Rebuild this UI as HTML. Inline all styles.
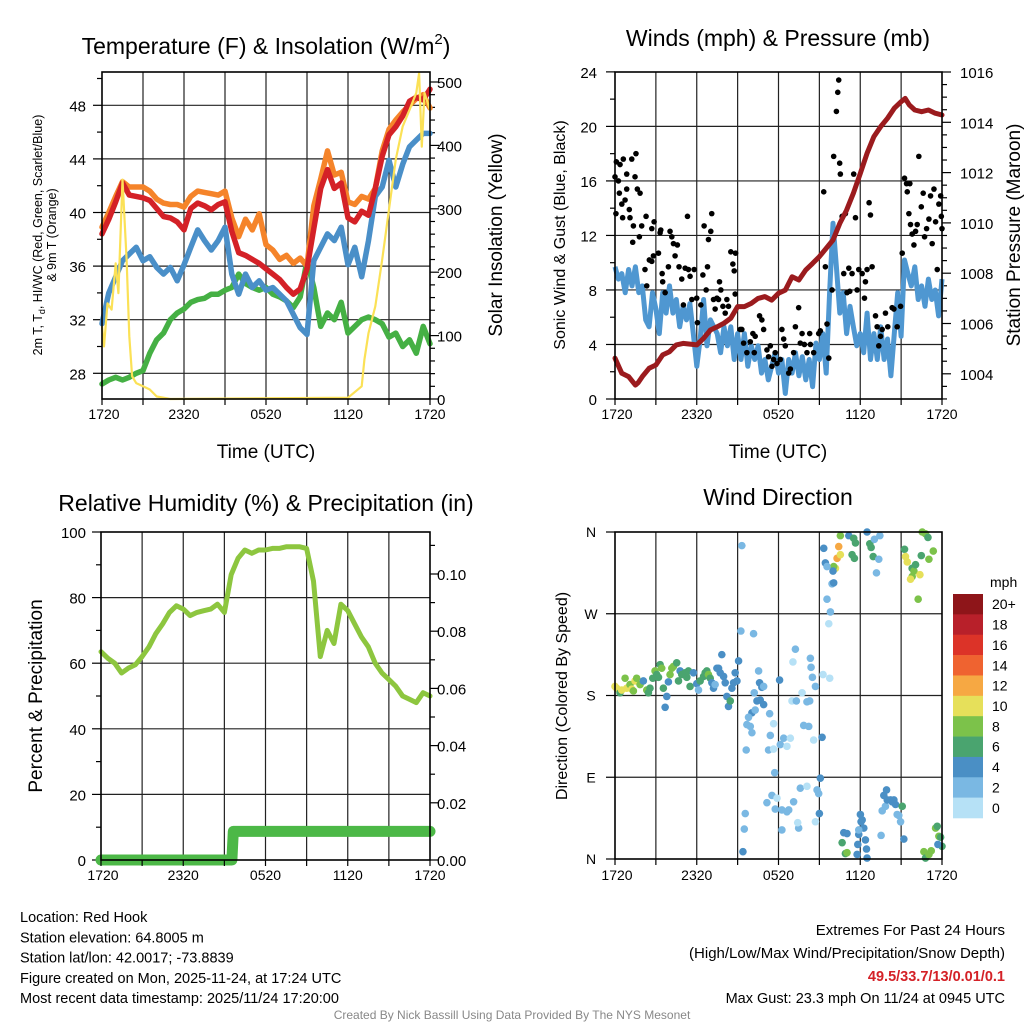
<!DOCTYPE html>
<html><head><meta charset="utf-8"><style>
html,body{margin:0;padding:0;background:#fff;}
svg text{font-family:"Liberation Sans",Arial,sans-serif;}
</style></head><body>
<svg id="chart" width="1024" height="1024" viewBox="0 0 1024 1024" xmlns="http://www.w3.org/2000/svg">
<rect width="1024" height="1024" fill="#fff"/>
</svg>
<script>
// ---------- DATA ----------
const tempHours = [0,0.5,1,1.5,2,2.5,3,3.5,4,4.5,5,5.5,6,6.5,7,7.5,8,8.5,9,9.5,10,10.5,11,11.5,12,12.5,13,13.5,14,14.5,15,15.5,16,16.5,17,17.5,18,18.5,19,19.5,20,20.5,21,21.5,22,22.5,23,23.5,24];
const tempRed = [38.4,39.5,40.8,42.2,41.3,41.2,41.1,40.9,40.3,39.7,39.6,39.3,38.7,40.3,40.7,40.5,40.2,40.6,40.8,38.6,37.0,36.8,36.5,36.2,35.8,35.4,35.0,34.4,33.9,34.3,35.8,38.8,41.8,43.2,41.8,42.2,39.6,39.3,40.1,39.8,41.8,44.2,45.8,46.4,47.2,48.3,48.6,48.4,49.2];
const tempOrange = [38.9,40,41.2,42.3,41.9,41.9,41.9,41.6,41.0,40.7,40.6,40.6,40.4,41.2,41.6,41.5,41.4,41.3,41.6,39.6,38.2,39.5,38.7,39.9,37.6,37.2,36.5,36.8,36.2,36.6,36.0,40.5,42.5,44.6,42.8,43.0,40.8,40.6,41.2,41.0,41.8,44.6,46.2,46.9,47.5,48.0,48.5,48.8,47.8];
const windChill = [31.7,34,35.2,36.4,36.9,37.4,36.4,36.7,35.9,35.4,35.9,34.9,36.1,37.4,38.7,37.9,37.2,37.9,38.9,35.4,33.9,35.4,34.4,34.9,34.2,34.4,33.9,33.4,32.4,31.4,30.9,36.4,37.4,38.4,37.9,38.9,36.1,37.4,35.2,37.9,41.2,41.9,43.9,41.9,43.6,44.9,45.4,45.9,45.9];
const dewPoint = [27.2,27.5,27.7,27.5,27.7,28,28.2,29.5,30.5,31,32,32.5,32.8,33.3,33.5,33.6,33.9,33.9,34.2,34.4,35.4,34.7,34.4,34.2,34.4,33.9,33.7,33.4,32.9,33.7,36.4,34.4,31.5,32.5,32,33.3,31,31.5,32,32.2,32,31.7,30.7,31,30,30.5,29.5,31.5,30.2];
const solarHours = [0,0.15,0.4,0.7,1,1.2,1.5,1.8,2,2.2,2.5,3,3.5,4,5,18,19,19.2,19.5,20,20.5,21,21.5,22,22.5,23,23.2,23.4,23.6,24];
const solarValues = [115,83,151,141,214,167,346,220,99,36,25,20,15,4,0,2,20,62,104,146,220,299,378,430,456,483,514,398,483,456];

const windHours = Array.from({length:97},(_, i)=>i*0.25);
const windSpeed = [9.7,8.8,9.2,7.8,9.5,8.3,9.7,7.8,8.3,5.8,5.3,7.8,6.6,4.8,7.8,6.3,8.3,6.3,7.3,5.3,6.8,5.8,7,4.8,2.4,4.4,7.3,3.9,5.8,5.3,4.8,3.4,5.3,3.9,5.3,2.9,4.8,2.9,4.8,2.4,3.9,2.9,3.9,1.9,2.9,1.4,2.4,3.4,1.9,2.9,0.4,2.9,1.9,3.4,1.7,3.1,1.4,2.9,0.9,4.1,2.9,4.8,1.9,7.8,12.9,9.7,6.3,7.8,4.8,6.8,5.3,3.9,4.8,3.4,6.3,2.9,4.8,2.9,5.3,2.9,4.4,1.7,4.8,7.8,4.6,10.2,9.2,8.3,9.7,7.3,8.3,6.8,8.8,7.3,8,6.1,8.8];
const pressHours = [0,0.5,1,1.5,1.7,2,2.5,3,3.5,4,4.5,5,6,6.5,7,7.5,8,8.5,9,9.5,10,10.5,11,11.5,12,12.5,13,13.5,14,14.5,15,15.5,16,16.5,17,17.5,18,18.5,19,19.5,20,20.5,21,21.3,21.6,22,22.5,23,23.5,24];
const pressValues = [1004.62,1004.02,1003.89,1003.55,1003.65,1003.89,1004.22,1004.35,1004.75,1004.88,1005.15,1005.21,1005.15,1005.41,1005.74,1005.87,1006.01,1006.21,1006.67,1006.67,1006.8,1007.0,1007.07,1006.93,1007.2,1007.33,1007.86,1007.73,1008.13,1008.39,1008.66,1008.99,1009.32,1009.98,1010.51,1011.18,1011.97,1012.77,1013.43,1013.83,1014.16,1014.56,1014.82,1014.95,1014.69,1014.49,1014.42,1014.49,1014.36,1014.29];
const gustHours = [0,0.07,0.1,0.25,0.37,0.32,0.5,0.61,0.56,0.74,0.86,0.86,1.05,1.1,1.23,1.3,1.35,1.47,1.54,1.64,1.84,1.79,1.96,2.2,2.28,2.33,2.52,2.7,2.82,2.7,2.87,3.19,3.31,3.36,3.46,3.5,3.68,3.92,4.04,4.17,4.29,4.41,4.58,4.7,4.9,5.02,5.15,5.32,5.39,5.51,5.64,5.81,6,6.05,6.3,6.45,6.54,6.69,6.79,6.86,7.03,7.1,7.23,7.35,7.48,7.6,7.67,7.77,7.92,8.09,8.21,8.33,8.5,8.65,8.75,8.85,8.82,9.19,9.31,9.44,9.68,9.93,10.12,10.22,10.29,10.61,10.78,10.91,11.15,11.27,11.4,11.52,11.64,11.76,11.89,12.13,12.25,12.38,12.5,12.75,12.87,13.11,13.24,13.48,13.6,13.73,13.9,14.09,14.29,14.34,14.58,14.95,15.07,15.32,15.44,15.56,15.69,15.93,16.05,16.25,16.35,16.42,16.49,16.54,16.67,16.79,16.91,17.03,17.16,17.23,17.4,17.52,17.65,17.77,17.89,18.14,18.31,18.38,18.5,18.65,18.75,18.87,19.12,19.24,19.36,19.49,19.61,19.85,20.02,20.34,20.47,20.71,20.96,21.08,21.25,21.4,21.45,21.64,21.57,21.69,21.81,21.94,22.06,22.18,22.3,22.48,22.62,22.72,22.87,23.04,23.16,23.28,23.41,23.53,23.65,23.77,23.9,23.95,24];
const gustValues = [16.3,13.6,17.4,16,17.2,15.1,14.3,17.6,13.3,14.6,16.5,15.4,13.9,13.3,17.6,11.5,12.7,16.3,18,15.4,15.1,11.9,12.7,9.5,13.4,8.3,10.2,10.1,10.5,12.5,13,10.7,12.2,12.4,9.2,8.6,7.8,9.7,12.3,11.9,11.4,10.5,11.3,9.7,8.8,6.9,9.6,13.4,9.5,9,7.3,9.5,7.4,5.6,6.9,9.1,12.7,8,9.7,11.7,12.3,13.6,7.3,6.6,7.4,7.3,8.6,8,6.8,6.3,7.3,6.8,10.8,9.9,9.4,10.7,7.7,5.1,5.1,4.1,3.4,4.2,4.8,3.4,4.6,6.1,5.8,5.1,3.6,3.1,3.9,2.4,2.9,3.4,2.6,2.9,5.1,4.4,3.9,1.9,2.2,3.4,5.3,6.7,4.1,4.8,4,3.4,4.8,4,3.4,4.8,5,15.2,9.7,5.5,3,8,17.8,21.1,22.5,23.4,17.3,16.5,13.4,9.2,13.6,7.8,9.6,7.9,9.2,16.5,13.3,8,9.5,9.2,7.4,8.6,9.5,14.4,13.5,9.7,6.1,5.3,3.9,4.6,5.1,6.3,5.3,6.7,6.6,5.3,6.8,10.7,16.2,15.8,15.2,15.8,13.6,12.8,12.1,11.3,12.3,12.8,17.8,14.1,15.1,11.9,12.5,13.2,14.9,11.4,15.4,13,9.5,14.3,14.9,13.4,12.5];

const rhHours = tempHours;
const rhValues = [63.5,61.5,60,57,58.5,59.5,62,65,69,72,75.5,77.5,76.5,74.5,75.5,76,76.5,78,75.5,87,92,94.5,93.5,94.5,94.5,95,95,95.5,95.5,95.5,95,85,62,70,66,78,76,72,68,65,60,57,55,53,50,49,48,51,50];
const precipHours = [0,9.55,9.65,24];
const precipValues = [0,0,0.01,0.01];

// wind direction observations: [hour, degrees, speed mph]
const windDirObs = [
[0,190,10],[0.12,188,10],[0.37,183,6],[0.49,186,10],[0.74,199,8],[0.86,188,10],[1.1,192,8],[1.23,187,10],[1.35,185,8],[1.47,196,10],[1.59,199,8],[1.84,192,8],[2.08,196,4],[2.33,186,8],[2.45,183,6],[2.57,188,6],[2.77,199,6],[2.94,207,8],[3.06,203,6],[3.19,200,6],[3.31,214,6],[3.43,210,8],[3.55,188,6],[3.68,167,4],[3.8,179,4],[3.92,195,4],[4.04,203,8],[4.17,210,8],[4.29,212,8],[4.53,216,6],[4.66,196,6],[4.78,207,4],[4.9,203,6],[5.15,205,6],[5.27,200,6],[5.39,207,6],[5.51,190,6],[5.76,205,4],[6,193,4],[6.13,186,2],[6.25,196,6],[6.5,201,6],[6.62,205,6],[6.74,207,6],[6.86,203,8],[6.99,199,6],[7.11,194,4],[7.23,188,4],[7.35,192,2],[7.48,210,4],[7.6,210,4],[7.72,205,4],[7.84,225,4],[7.97,201,4],[8.09,194,4],[8.21,179,4],[8.33,168,4],[8.46,174,6],[8.58,188,4],[8.7,194,4],[8.82,205,4],[8.95,196,4],[9.07,218,4],
[9.31,345,2],[9.24,251,2],[10.17,248,2],[10.54,207,2],[10.61,194,4],[10.78,189,4],[10.91,190,2],[10.22,183,2],[10.42,174,4],[10.66,175,4],[10.91,170,4],[10.05,161,4],[9.8,156,2],[9.68,148,2],[9.93,146,2],[10.05,139,2],[10.29,164,2],[11.35,160,2],[11.64,149,0],[11.4,136,2],[11.27,120,2],[11.64,121,0],[12.13,126,2],[12.38,133,2],[12.62,124,0],[12.87,133,0],[12.08,197,4],[13.24,231,2],[13.06,217,0],[14.34,221,2],[14.39,211,2],[14.49,200,2],[14.71,190,2],[13.73,183,0],[12.99,174,0],[13.31,174,2],[14.09,173,2],[14.29,174,2],[13.85,147,2],[14.22,146,2],[14.58,131,0],[15.2,134,4],[15.27,203,0],[15.76,199,0],[9.63,120,2],[11.72,95,2],[15.07,89,4],[13.6,78,2],[14.09,80,0],[14.83,76,2],[14.95,72,2],[11.52,70,2],[11.89,67,0],[11.15,62,2],[11.76,55,2],[12.25,54,2],[12.62,52,2],[12.75,54,2],[13.11,63,2],[9.56,50,2],[9.49,33,2],[12.25,32,2],[13.48,34,2],[13.41,40,0],[14.71,41,0],[15,50,4],[9.39,8,4],
[15.32,342,4],[16.42,344,12],[16.3,331,12],[16.54,335,10],[16.18,320,10],[16.05,322,8],[15.44,326,4],[15.56,322,2],[16,317,4],[15.93,303,2],[16.05,304,4],[15.56,286,2],[15.81,272,2],[15.69,259,0],[16.54,356,8],[17.16,356,4],[17.52,353,6],[17.65,348,6],[17.4,335,6],[17.57,331,6],[18.5,360,4],[18.7,347,6],[18.8,343,6],[18.95,333,6],[19.04,352,2],[19.36,330,2],[19.44,356,2],[19.19,315,2],[21.25,341,6],[21.32,333,10],[21.45,327,10],[21.81,320,6],[21.94,317,8],[21.81,311,8],[21.69,308,10],[22.06,324,6],[22.38,313,10],[22.48,334,6],[22.55,360,8],[22.79,358,8],[22.97,354,6],[23.04,330,8],[23.36,339,8],[22.25,286,8],
[16.79,29,4],[17.03,28,4],[16.67,18,6],[16.91,6,6],[17.03,7,8],[17.77,5,4],[17.82,16,4],[17.89,27,4],[18.01,49,4],[18.14,43,4],[18.26,34,4],[18.06,41,4],[18.38,21,4],[18.46,11,4],[18.5,1,4],[17.89,32,2],[19.53,26,2],[19.61,53,2],[19.85,58,2],[19.73,70,4],[19.93,76,4],[19.98,65,4],[20.22,65,4],[20.34,63,4],[20.47,65,4],[20.59,60,4],[20.71,49,2],[20.83,48,2],[20.96,41,2],[21.08,58,6],[21.2,22,4],[22.67,8,8],[22.79,1,6],[23.04,5,8],[23.21,9,8],[23.53,34,8],[23.65,36,6],[23.77,25,8],[23.9,24,6],[24,14,6],[23.7,16,4]
];
const dirHours = windDirObs.map(d=>d[0]);
const dirDegrees = windDirObs.map(d=>d[1]);
const dirSpeeds = windDirObs.map(d=>d[2]);

const timeTickLabels = ["1720","2320","0520","1120","1720"];
const speedBinLabels = ["20+","18","16","14","12","10","8","6","4","2","0"];
const speedBinColors = ["#8e1519","#b8202a","#dc3328","#ef6330","#f6a843","#e6e05a","#7cc24a","#4aa46f","#4a8fc5","#7ab8e3","#b6e1f6"];

// ---------- HELPERS ----------
const NS="http://www.w3.org/2000/svg";
const svg=document.getElementById('chart');
function mk(tag,attrs,parent){const e=document.createElementNS(NS,tag);for(const k in attrs)e.setAttribute(k,attrs[k]);(parent||svg).appendChild(e);return e;}
function txt(s,x,y,size,anchor,parent,extra){const t=mk('text',Object.assign({x:x,y:y,'font-size':size,'text-anchor':anchor||'middle',fill:'#000'},extra||{}),parent);t.textContent=s;return t;}
function pathFrom(xs,ys,fx,fy){let d='';for(let i=0;i<xs.length;i++){d+=(i?'L':'M')+fx(xs[i]).toFixed(1)+' '+fy(ys[i]).toFixed(1);}return d;}

function panelFrame(name,x0,x1,y0,y1){
  const g=mk('g',{});
  
  
  // vertical grid
  for(let i=1;i<8;i++){const x=x0+(x1-x0)*i/8;const l=mk('line',{x1:x,x2:x,y1:y0,y2:y1,stroke:'#222','stroke-width':1.2},g);
    
    }
  return g;
}
function timeAxis(x0,x1,yb,labelY){
  for(let i=0;i<=8;i++){const x=x0+(x1-x0)*i/8;mk('line',{x1:x,x2:x,y1:yb,y2:yb+6,stroke:'#000','stroke-width':1.2});}
  for(let i=0;i<5;i++){const x=x0+(x1-x0)*i/4;const t=txt(timeTickLabels[i],x+(i==0?2:0),labelY,14,'middle');
    
    }
}
function hGrid(g,x0,x1,y){const l=mk('line',{x1:x0,x2:x1,y1:y,y2:y,stroke:'#222','stroke-width':1.2},g);
  
  }
function box(x0,x1,y0,y1){const r=mk('rect',{x:x0,y:y0,width:x1-x0,height:y1-y0,fill:'none',stroke:'#000','stroke-width':1.6});
  
  }

// ================= PANEL 1 =================
{
const X0=102,X1=430,Y0=72,Y1=399;
const xs=h=>X0+h*(X1-X0)/24;
const yT=v=>105.3+(48-v)*13.4;
const yS=v=>399-v*0.634;
const g=panelFrame('temperature-panel',X0,X1,Y0,Y1);
[28,32,36,40,44,48].forEach(v=>hGrid(g,X0,X1,yT(v)));
for(let v=28;v<=50;v+=2){const y=yT(v);mk('line',{x1:X0-(v%4==0?9:5),x2:X0,y1:y,y2:y,stroke:'#000','stroke-width':1.2});}
[28,32,36,40,44,48].forEach(v=>{const t=txt(String(v),86,yT(v)+6,15,'end');});
for(let v=0;v<=510;v+=20){const y=yS(v);if(y<Y0)continue;mk('line',{x1:X1,x2:X1+(v%100==0?9:5),y1:y,y2:y,stroke:'#000','stroke-width':1.2});}
[0,100,200,300,400,500].forEach(v=>{const t=txt(String(v),437,yS(v)+6,15,'start');});
const series=[['dewpoint-line',dewPoint,'#45b044'],['wind-chill-line',windChill,'#4a8fc8'],['temp-9m-line',tempOrange,'#f5842a'],['temp-2m-line',tempRed,'#d42127']];
series.forEach(s=>{const p=mk('path',{d:pathFrom(tempHours,s[1],xs,yT),fill:'none',stroke:s[2],'stroke-width':5.5,'stroke-linejoin':'round','stroke-linecap':'round'});
  
  });
const sp=mk('path',{d:pathFrom(solarHours,solarValues,xs,yS),fill:'none',stroke:'#fbe156','stroke-width':2.2,'stroke-linejoin':'round'});


box(X0,X1,Y0,Y1);
timeAxis(X0,X1,Y1,419);
const ti=txt('',266,54,23,'middle');


ti.innerHTML='Temperature (F) &amp; Insolation (W/m<tspan font-size="15" dy="-10">2</tspan><tspan dy="10">)</tspan>';
const xl=txt('Time (UTC)',266,458,19,'middle');


const yl=txt('',0,0,12.5,'middle',null,{transform:'translate(42,235) rotate(-90)'});


yl.innerHTML='2m T, T<tspan font-size="9" dy="3">d</tspan><tspan dy="-3">, HI/WC (Red, Green, Scarlet/Blue)</tspan>';
const yl2=txt('& 9m T (Orange)',0,0,12.5,'middle',null,{transform:'translate(56,235) rotate(-90)'});


const yr=txt('Solar Insolation (Yellow)',0,0,19,'middle',null,{transform:'translate(502,235) rotate(-90)'});


}

// ================= PANEL 2 =================
{
const X0=615,X1=942,Y0=72,Y1=399;
const xs=h=>X0+h*(X1-X0)/24;
const yW=v=>399-v*13.63;
const yP=p=>72+(1016-p)*25.15;
const g=panelFrame('winds-panel',X0,X1,Y0,Y1);
[4,8,12,16,20].forEach(v=>hGrid(g,X0,X1,yW(v)));
for(let v=0;v<=24;v+=2){const y=yW(v);mk('line',{x1:X0-(v%4==0?9:5),x2:X0,y1:y,y2:y,stroke:'#000','stroke-width':1.2});}
[0,4,8,12,16,20,24].forEach(v=>{const t=txt(String(v),597,yW(v)+6,15,'end');});
for(let p=1003;p<=1016.01;p+=0.5){const y=yP(p);mk('line',{x1:X1,x2:X1+(Math.abs(p%2)<0.01?9:5),y1:y,y2:y,stroke:'#000','stroke-width':1.2});}
[1004,1006,1008,1010,1012,1014,1016].forEach(p=>{const t=txt(String(p),960,yP(p)+6,15,'start');});
const wp=mk('path',{d:pathFrom(windHours,windSpeed,xs,yW),fill:'none',stroke:'#4f97d1','stroke-width':5,'stroke-linejoin':'round'});


const gg=mk('g',{});


for(let i=0;i<gustHours.length;i++){const c=mk('circle',{cx:xs(gustHours[i]),cy:yW(gustValues[i]),r:2.8,fill:'#000'},gg);
  
  }
const pp=mk('path',{d:pathFrom(pressHours,pressValues,xs,yP),fill:'none',stroke:'#9b1b1e','stroke-width':5,'stroke-linejoin':'round','stroke-linecap':'round'});


box(X0,X1,Y0,Y1);
timeAxis(X0,X1,Y1,419);
const ti=txt('Winds (mph) & Pressure (mb)',778,46,23,'middle');


const xl=txt('Time (UTC)',778,458,19,'middle');


const yl=txt('Sonic Wind & Gust (Blue, Black)',0,0,16,'middle',null,{transform:'translate(565,235) rotate(-90)'});


const yr=txt('Station Pressure (Maroon)',0,0,19,'middle',null,{transform:'translate(1020,235) rotate(-90)'});


}

// ================= PANEL 3 =================
{
const X0=101,X1=430,Y0=532,Y1=860;
const xs=h=>X0+h*(X1-X0)/24;
const yR=v=>860-v*3.28;
const yPr=v=>860-v*2860;
const g=panelFrame('humidity-panel',X0,X1,Y0,Y1);
[20,40,60,80].forEach(v=>hGrid(g,X0,X1,yR(v)));
for(let v=0;v<=100;v+=10){const y=yR(v);mk('line',{x1:X0-(v%20==0?9:5),x2:X0,y1:y,y2:y,stroke:'#000','stroke-width':1.2});}
[0,20,40,60,80,100].forEach(v=>{const t=txt(String(v),86,yR(v)+6,15,'end');});
for(let k=0;k<=11;k++){const y=yPr(k/100);mk('line',{x1:X1,x2:X1+(k%2==0?9:5),y1:y,y2:y,stroke:'#000','stroke-width':1.2});}
[0,0.02,0.04,0.06,0.08,0.10].forEach(v=>{const t=txt(v.toFixed(2),437,yPr(v)+6,15,'start');});
const rp=mk('path',{d:pathFrom(rhHours,rhValues,xs,yR),fill:'none',stroke:'#8dc63f','stroke-width':5,'stroke-linejoin':'round','stroke-linecap':'round'});


const pr=mk('path',{d:pathFrom(precipHours,precipValues,xs,yPr),fill:'none',stroke:'#4cb847','stroke-width':11,'stroke-linejoin':'round','stroke-linecap':'round'});


box(X0,X1,Y0,Y1);
timeAxis(X0,X1,Y1,880);
const ti=txt('Relative Humidity (%) & Precipitation (in)',266,511,23,'middle');


const yl=txt('Percent & Precipitation',0,0,19,'middle',null,{transform:'translate(42,696) rotate(-90)'});


}

// ================= PANEL 4 =================
{
const X0=615,X1=942,Y0=532,Y1=859;
const xs=h=>X0+h*(X1-X0)/24;
const yD=d=>859-d*(327/360);
const g=panelFrame('wind-direction-panel',X0,X1,Y0,Y1);
[90,180,270].forEach(v=>hGrid(g,X0,X1,yD(v)));
const dirLabels=['N','E','S','W','N'];
[0,90,180,270,360].forEach((v,i)=>{const y=yD(v);mk('line',{x1:X0-9,x2:X0,y1:y,y2:y,stroke:'#000','stroke-width':1.2});
  const t=txt(dirLabels[i],591,y+5,14,'middle');
  
  });
function colorFor(s){let idx=Math.round(s/2);if(idx>10)idx=10;if(idx<0)idx=0;return speedBinColors[10-idx];}
const dg=mk('g',{});


for(let i=0;i<dirHours.length;i++){const c=mk('circle',{cx:xs(dirHours[i]),cy:yD(dirDegrees[i]),r:3.8,fill:colorFor(dirSpeeds[i])},dg);
  
  }
box(X0,X1,Y0,Y1);
timeAxis(X0,X1,Y1,880);
const ti=txt('Wind Direction',778,505,23,'middle');


const yl=txt('Direction (Colored By Speed)',0,0,16,'middle',null,{transform:'translate(567,696) rotate(-90)'});


// colorbar
const cb=mk('g',{});


const bh=(818-594)/11;
for(let i=0;i<11;i++){const r=mk('rect',{x:953,y:594+i*bh,width:30,height:bh+0.3,fill:speedBinColors[i]},cb);
  
  
  const t=txt(speedBinLabels[i],992,594+i*bh+bh/2+5,14,'start',cb);
  
  }
const u=txt('mph',990,587,14,'start',cb);


}

// ================= FOOTER TEXT =================
{
const lines=['Location: Red Hook','Station elevation: 64.8005 m','Station lat/lon: 42.0017; -73.8839','Figure created on Mon, 2025-11-24, at 17:24 UTC','Most recent data timestamp: 2025/11/24 17:20:00'];
lines.forEach((s,i)=>{const t=txt(s,20,922+i*20.3,14.5,'start');
  
  });
const r1=txt('Extremes For Past 24 Hours',1005,935,15,'end');


const r2=txt('(High/Low/Max Wind/Precipitation/Snow Depth)',1005,958,15,'end');


const r3=txt('49.5/33.7/13/0.01/0.1',1005,981,14.5,'end',null,{fill:'#d42127','font-weight':'bold'});


const r4=txt('Max Gust: 23.3 mph On 11/24 at 0945 UTC',1005,1003,14.5,'end');


const cr=txt('Created By Nick Bassill Using Data Provided By The NYS Mesonet',512,1019,12,'middle',null,{fill:'#888'});


}
</script>
</body></html>
